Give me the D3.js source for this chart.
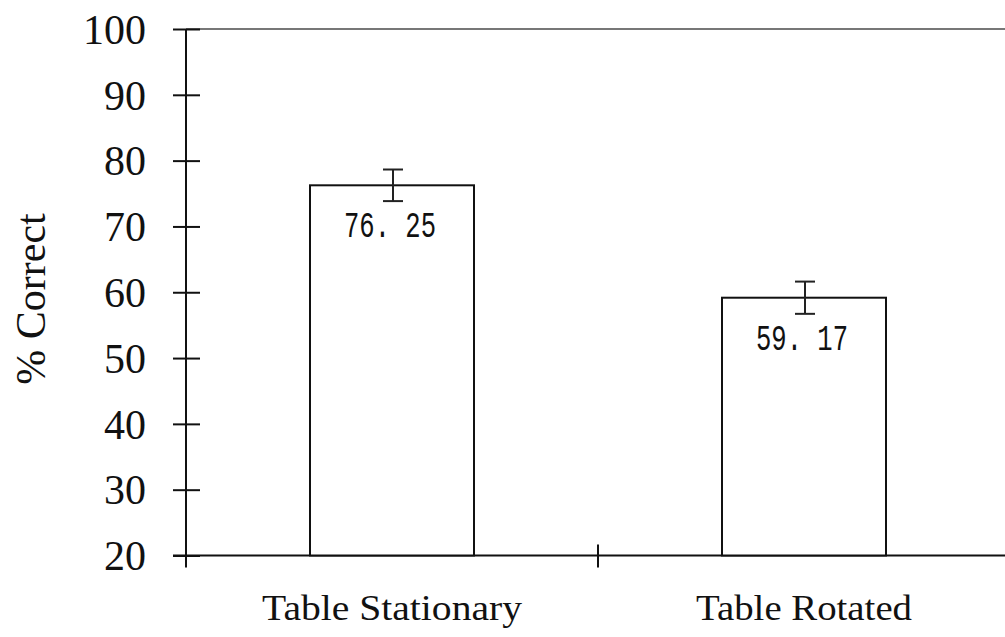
<!DOCTYPE html>
<html><head><meta charset="utf-8">
<script src="https://cdn.jsdelivr.net/npm/d3@7"></script>
<style>body{margin:0;background:#fff}svg{display:block}</style>
</head><body>
<svg id="c" width="1005" height="637"></svg>
<script>
const categories = ["Table Stationary", "Table Rotated"];
const values = [76.25, 59.17];
const errors = [2.4, 2.45];
const valueLabels = ["76. 25", "59. 17"];
const yTicks = [20, 30, 40, 50, 60, 70, 80, 90, 100];

const svg = d3.select("#c");
const L = 186, R = 1010, T = 29, B = 555.5;
const x = d3.scaleBand().domain(categories).range([L, R]).paddingInner(0).paddingOuter(0);
const y = d3.scaleLinear().domain([20, 100]).range([B, T]);
const barW = 164;

// top frame line
svg.append("line").attr("x1", L).attr("x2", 1005).attr("y1", T).attr("y2", T)
  .attr("stroke", "#777").attr("stroke-width", 2);

// y axis
const ya = svg.append("g").attr("transform", `translate(${L},0)`)
  .call(d3.axisLeft(y).tickValues(yTicks).tickSize(13).tickPadding(27).tickFormat(d3.format("d")));
ya.select(".domain").remove();
ya.append("line").attr("x1", 0).attr("x2", 0).attr("y1", T).attr("y2", B).attr("stroke", "#111").attr("stroke-width", 2);
ya.selectAll(".tick line").attr("x1", -13).attr("x2", 14).attr("stroke", "#111").attr("stroke-width", 2);
ya.selectAll(".tick text").attr("font-family", "Liberation Serif, serif").attr("font-size", 42).attr("fill", "#111").attr("dy", "0.34em");

// x axis line
svg.append("line").attr("x1", 173).attr("x2", 1005).attr("y1", B).attr("y2", B).attr("stroke", "#111").attr("stroke-width", 2);
// category separators
const seps = [L, x(categories[1])];
svg.selectAll(".sep").data(seps).enter().append("line")
  .attr("x1", d => d).attr("x2", d => d)
  .attr("y1", (d, i) => i === 0 ? B : B - 11).attr("y2", B + 12)
  .attr("stroke", "#111").attr("stroke-width", 2);

// bars
const cx = d => x(d) + x.bandwidth() / 2;
svg.selectAll(".bar").data(categories).enter().append("rect")
  .attr("x", d => cx(d) - barW / 2).attr("width", barW)
  .attr("y", (d, i) => y(values[i])).attr("height", (d, i) => B - y(values[i]))
  .attr("fill", "#fff").attr("stroke", "#111").attr("stroke-width", 2);

// error bars
categories.forEach((c, i) => {
  const g = svg.append("g").attr("stroke", "#222").attr("stroke-width", 2);
  const xc = cx(c) + 1;
  g.append("line").attr("x1", xc).attr("x2", xc).attr("y1", y(values[i] + errors[i])).attr("y2", y(values[i] - errors[i]));
  [values[i] + errors[i], values[i] - errors[i]].forEach(v =>
    g.append("line").attr("x1", xc - 10).attr("x2", xc + 10).attr("y1", y(v)).attr("y2", y(v)));
});

// value labels
svg.selectAll(".vl").data(categories).enter().append("text")
  .attr("x", d => cx(d) - 2).attr("y", (d, i) => y(values[i]) + 52)
  .attr("text-anchor", "middle").attr("font-family", "Liberation Mono, monospace")
  .attr("font-size", 36).attr("fill", "#111")
  .attr("textLength", 92).attr("lengthAdjust", "spacingAndGlyphs")
  .text((d, i) => valueLabels[i]);

// category labels
const catLen = [260, 216];
svg.selectAll(".cl").data(categories).enter().append("text")
  .attr("x", d => cx(d)).attr("y", 620)
  .attr("text-anchor", "middle").attr("font-family", "Liberation Serif, serif")
  .attr("font-size", 35).attr("fill", "#111")
  .attr("textLength", (d, i) => catLen[i]).attr("lengthAdjust", "spacingAndGlyphs")
  .text(d => d);

// y label
svg.append("text").attr("transform", "translate(45,299) rotate(-90)")
  .attr("text-anchor", "middle").attr("font-family", "Liberation Serif, serif")
  .attr("font-size", 42).attr("fill", "#111").text("% Correct");
</script>
</body></html>
